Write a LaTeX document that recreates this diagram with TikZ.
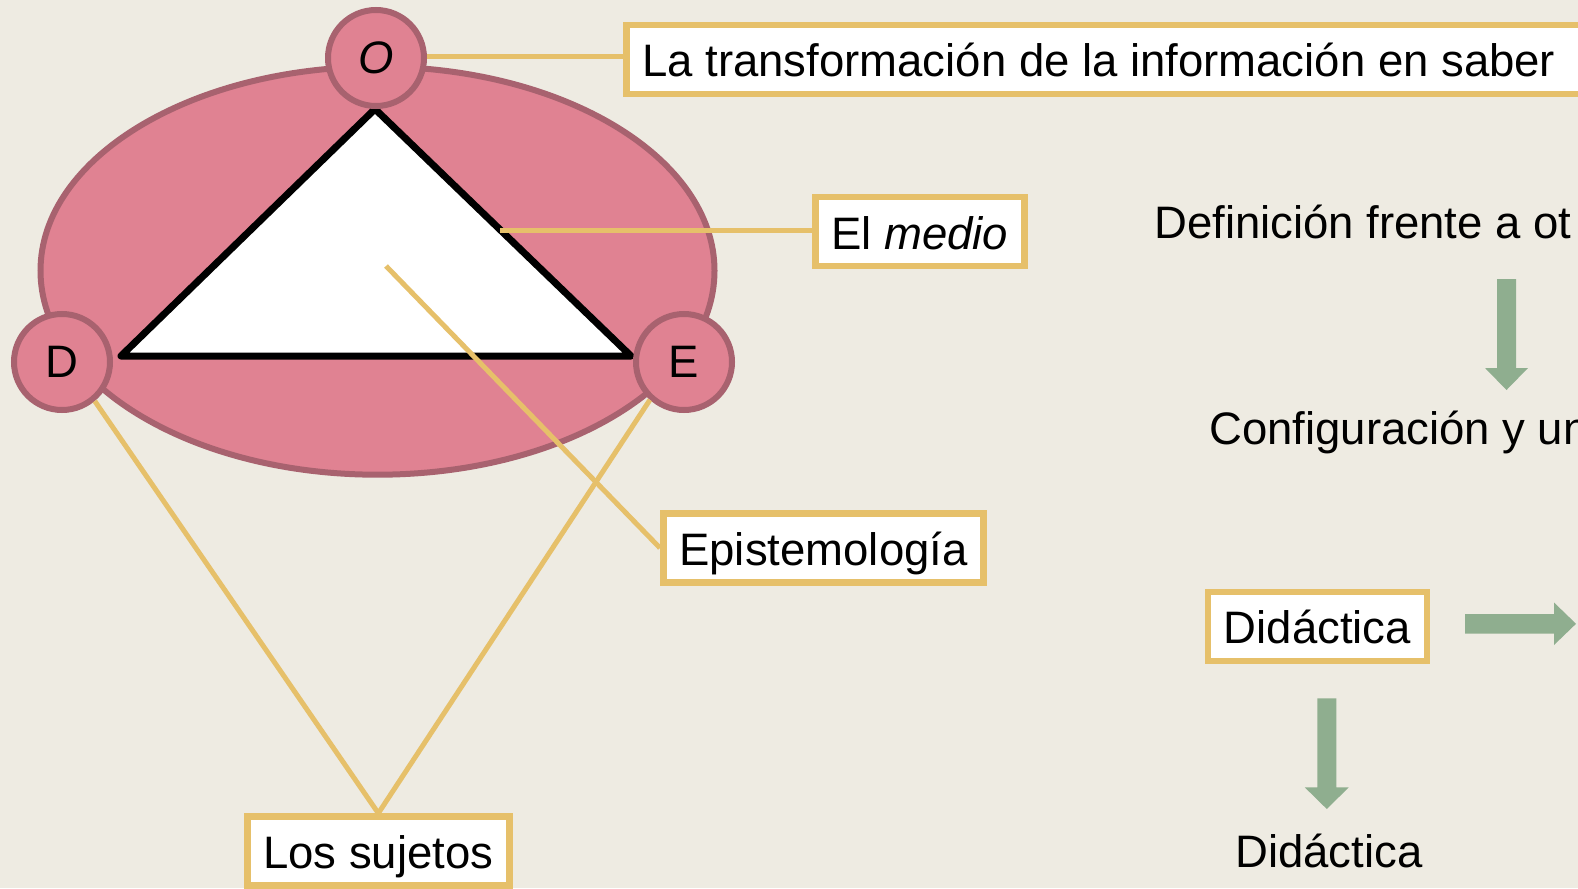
\documentclass[tikz,border=0pt]{standalone}
\usepackage{fontspec}
\setmainfont{Liberation Sans}
\definecolor{bg}{RGB}{238,235,226}
\definecolor{pinkfill}{RGB}{224,130,146}
\definecolor{pinkline}{RGB}{168,98,111}
\definecolor{gold}{RGB}{230,192,106}
\definecolor{sage}{RGB}{143,174,143}
\begin{document}
\begin{tikzpicture}[x=1pt,y=-1pt,
  every node/.style={font=\fontsize{45.5}{50}\selectfont},
  vertex/.style={circle,draw=pinkline,fill=pinkfill,line width=6pt,minimum size=96pt,inner sep=0pt},
  labelbox/.style={draw=gold,fill=white,line width=6.5pt,anchor=west,inner xsep=16pt,inner ysep=0pt,text height=36pt,text depth=1pt,minimum height=69pt},
  leader/.style={draw=gold,line width=5pt},
  plaintext/.style={anchor=base west,inner sep=0pt},
  bigarrow/.style={fill=sage}
]
\useasboundingbox (0,0) rectangle (1578,888);
\clip (0,0) rectangle (1578,888);
\fill[bg] (0,0) rectangle (1578,888);

% ellipse and triangle
\draw[draw=pinkline,fill=pinkfill,line width=6pt] (377.5,270.7) ellipse [x radius=337pt, y radius=204pt];
\draw[black,fill=white,line width=7pt,line join=round] (375,109) -- (121,356) -- (631,356) -- cycle;

% vertices
\node[vertex] (O) at (376,58) {\textit{O}};
\node[vertex] (D) at (62,362) {D};
\node[vertex] (E) at (684,362) {E};

% label boxes
\node[labelbox] (T) at (623,59.5) {La transformación de la información en saber\hspace*{120pt}};
\node[labelbox] (M) at (812,231.5) {El \textit{medio}};
\node[labelbox] (P) at (660,548) {Epistemología};
\node[labelbox] (S) at (244,851) {Los sujetos};
\node[labelbox] (DB) at (1204.5,626.4) {Didáctica};

% anchor points for leaders
\coordinate (medioPt) at (500,230);
\coordinate (epiPt) at (386,266);

% leaders
\draw[leader] (O.east |- 0,57) -- (T.west |- 0,57);
\draw[leader] (medioPt) -- (medioPt -| M.west);
\draw[leader] (epiPt) -- (P.west);
\draw[leader] (D.-50) -- (S.north);
\draw[leader] (E.228) -- (S.north);

% right-side texts
\node[plaintext] (DEF) at (1154,238.5) {Definición frente a ot};
\node[plaintext] (CONF) at (1209,444) {Configuración y un};
\node[plaintext] (DID) at (1235,867) {Didáctica};

% block arrows
\fill[bigarrow] (1497,279) -- (1516,279) -- (1516,368) -- (1528,368) -- (1506.5,390) -- (1485,368) -- (1497,368) -- cycle;
\fill[bigarrow] (1465,614) -- (1554,614) -- (1554,602.5) -- (1576,623.8) -- (1554,645) -- (1554,633.5) -- (1465,633.5) -- cycle;
\fill[bigarrow] (1317.3,698.4) -- (1336.3,698.4) -- (1336.3,787.4) -- (1348.7,787.4) -- (1326.8,809) -- (1304.8,787.4) -- (1317.3,787.4) -- cycle;
\end{tikzpicture}
\end{document}
